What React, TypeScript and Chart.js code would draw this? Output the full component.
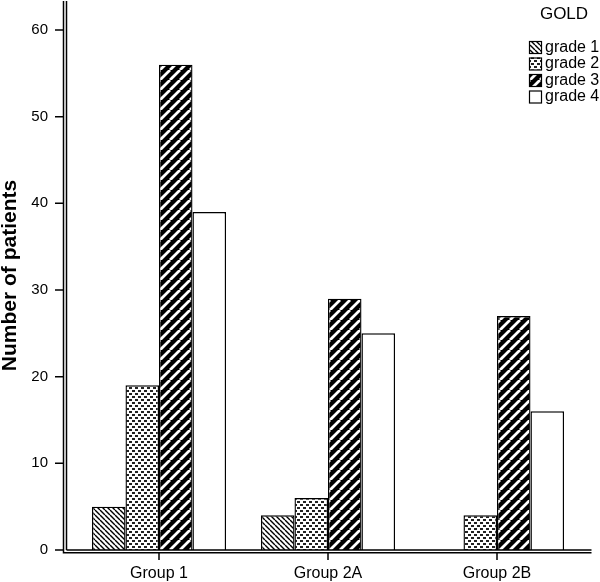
import React, { useEffect, useRef } from "react";
import { Chart, registerables } from "chart.js";

Chart.register(...registerables);

const categories = ["Group 1", "Group 2A", "Group 2B"];
const seriesLabels = ["grade 1", "grade 2", "grade 3", "grade 4"];
const grade1 = [5, 4, 0];
const grade2 = [19, 6, 4];
const grade3 = [56, 29, 27];
const grade4 = [39, 25, 16];
const yTicks = [0, 10, 20, 30, 40, 50, 60];
const yMax = 63.35;
const legendTitle = "GOLD";
const yTitle = "Number of patients";

const FONT = '"Liberation Sans", Arial, sans-serif';

function makePattern(kind: string): CanvasPattern | string {
  if (kind === "white") return "#ffffff";
  const c = document.createElement("canvas");
  const ctx = c.getContext("2d")!;
  if (kind === "back") {
    const s = 5;
    c.width = s;
    c.height = s;
    ctx.fillStyle = "#fff";
    ctx.fillRect(0, 0, s, s);
    ctx.strokeStyle = "#000";
    ctx.lineWidth = 1.4;
    ctx.beginPath();
    for (const k of [-1, 0, 1]) {
      ctx.moveTo(k * s, 0);
      ctx.lineTo(k * s + s, s);
    }
    ctx.stroke();
  } else if (kind === "fwd") {
    const s = 10;
    c.width = s;
    c.height = s;
    ctx.fillStyle = "#000";
    ctx.fillRect(0, 0, s, s);
    ctx.strokeStyle = "#fff";
    ctx.lineWidth = 2.8;
    ctx.beginPath();
    for (const k of [-1, 0, 1]) {
      ctx.moveTo(k * s, s);
      ctx.lineTo(k * s + s, 0);
    }
    ctx.stroke();
  } else {
    c.width = 6;
    c.height = 6;
    ctx.fillStyle = "#fff";
    ctx.fillRect(0, 0, 6, 6);
    ctx.fillStyle = "#222";
    ctx.fillRect(0, 0, 3, 2);
    ctx.fillRect(3, 3, 3, 2);
  }
  return ctx.createPattern(c, "repeat")!;
}

export default function App() {
  const ref = useRef<HTMLCanvasElement | null>(null);

  useEffect(() => {
    const canvas = ref.current!;
    const fills = [makePattern("back"), makePattern("dots"), makePattern("fwd"), makePattern("white")];
    const values = [grade1, grade2, grade3, grade4];

    const framePlugin = {
      id: "frame",
      afterDatasetsDraw(chart: any) {
        const ctx = chart.ctx as CanvasRenderingContext2D;
        const ys = chart.scales.y;
        const xs = chart.scales.x;
        const area = chart.chartArea;
        ctx.save();
        ctx.strokeStyle = "#000";
        ctx.lineWidth = 1.5;
        ctx.beginPath();
        // y axis line
        ctx.moveTo(63.5, area.top);
        ctx.lineTo(63.5, 553.5);
        // inner frame left
        ctx.moveTo(66.5, area.top);
        ctx.lineTo(66.5, area.bottom);
        // inner frame bottom
        ctx.moveTo(66.5, area.bottom);
        ctx.lineTo(591.5, area.bottom);
        // x axis line
        ctx.moveTo(63, 552.75);
        ctx.lineTo(591.5, 552.75);
        // y tick marks
        for (const v of yTicks) {
          const p = ys.getPixelForValue(v);
          ctx.moveTo(55, p);
          ctx.lineTo(63.5, p);
        }
        // x tick marks
        categories.forEach((_, i) => {
          const p = xs.getPixelForValue(i);
          ctx.moveTo(p, 552);
          ctx.lineTo(p, 560);
        });
        ctx.stroke();

        // legend
        ctx.fillStyle = "#000";
        ctx.font = `17px ${FONT}`;
        ctx.textAlign = "center";
        ctx.textBaseline = "middle";
        ctx.fillText(legendTitle, 564, 14.5);
        const rows = [47, 63.5, 80, 96.5];
        ctx.font = `16px ${FONT}`;
        ctx.textAlign = "left";
        chart.data.datasets.forEach((ds: any, i: number) => {
          const y = rows[i];
          ctx.fillStyle = ds.backgroundColor;
          ctx.fillRect(529, y - 6, 13, 12);
          ctx.lineWidth = 1.2;
          ctx.strokeStyle = "#000";
          ctx.strokeRect(529.5, y - 5.5, 12, 12);
          ctx.fillStyle = "#000";
          ctx.fillText(ds.label, 545, y + 0.5);
        });
        ctx.restore();
      },
    };

    const chart = new Chart(canvas, {
      type: "bar",
      data: {
        labels: categories,
        datasets: seriesLabels.map((label, i) => ({
          label,
          data: values[i],
          backgroundColor: fills[i] as any,
          borderColor: "#000",
          borderWidth: 1.4,
          borderSkipped: "bottom",
          categoryPercentage: 0.793,
          barPercentage: 1,
        })),
      },
      options: {
        responsive: false,
        animation: false,
        devicePixelRatio: 1,
        layout: { padding: { top: 1, right: 18.5, left: 0, bottom: 0 } },
        plugins: {
          legend: { display: false },
          tooltip: { enabled: false },
        },
        scales: {
          x: {
            type: "category",
            offset: true,
            afterFit: (scale: any) => {
              scale.height = 32;
              scale.paddingLeft = 0;
              scale.paddingRight = 0;
            },
            grid: { display: false, drawTicks: false },
            border: { display: false },
            ticks: {
              color: "#000",
              font: { family: FONT, size: 16 },
              padding: 13.5,
              maxRotation: 0,
            },
          },
          y: {
            type: "linear",
            min: 0,
            max: yMax,
            afterFit: (scale: any) => {
              scale.width = 74.5;
              scale.paddingTop = 0;
              scale.paddingBottom = 0;
            },
            afterBuildTicks: (scale: any) => {
              scale.ticks = yTicks.map((v) => ({ value: v }));
            },
            grid: { display: false, drawTicks: false },
            border: { display: false },
            ticks: {
              color: "#000",
              font: { family: FONT, size: 15 },
              padding: 26.5,
            },
            title: {
              display: true,
              text: yTitle,
              color: "#000",
              font: { family: FONT, size: 21, weight: "bold", lineHeight: 1 },
              padding: 0,
            },
          },
        },
      },
      plugins: [framePlugin],
    });
    return () => chart.destroy();
  }, []);

  return (
    <div style={{ position: "fixed", left: 0, top: 0, width: 600, height: 582, background: "#fff" }}>
      <canvas ref={ref} width={600} height={582} style={{ width: 600, height: 582 }} />
    </div>
  );
}
